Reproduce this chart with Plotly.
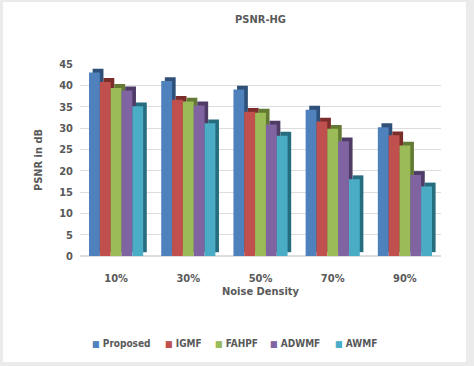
import plotly.graph_objects as go

categories = ["10%", "30%", "50%", "70%", "90%"]
series_names = ["Proposed", "IGMF", "FAHPF", "ADWMF", "AWMF"]
proposed = [43.0, 41.0, 39.0, 34.3, 30.2]
igmf = [40.8, 36.6, 33.8, 31.5, 28.3]
fahpf = [39.4, 36.2, 33.6, 29.8, 25.9]
adwmf = [38.8, 35.3, 30.8, 26.9, 19.0]
awmf = [35.1, 31.1, 28.2, 18.0, 16.3]
values = [proposed, igmf, fahpf, adwmf, awmf]

front_colors = ["#4F81BD", "#C0504D", "#9BBB59", "#8064A2", "#4BACC6"]
side_colors = ["#2E5079", "#7A2D2B", "#627A33", "#4E3B66", "#276D80"]

# x pixel where each legend square starts in the reference
legend_square_x = [92, 165, 215, 270, 335]

FONT = "DejaVu Sans Condensed, Liberation Sans Narrow, sans-serif"
GRAY = "#595959"

bar_w = 0.15
dx = 0.05    # depth offset in category units
dy = 0.9     # depth offset in value units

L, R, T, B = 80, 33, 64, 110
W, H = 474, 366
pw, ph = W - L - R, H - T - B

fig = go.Figure()
legend_ids = ["legend", "legend2", "legend3", "legend4", "legend5"]
for i, (name, vals) in enumerate(zip(series_names, values)):
    off = -0.375 + i * bar_w
    fig.add_trace(go.Bar(
        x=categories, y=vals, base=[dy] * len(vals), name=name + " depth",
        width=bar_w, offset=off + dx, marker=dict(color=side_colors[i], line=dict(width=0)),
        showlegend=False, hoverinfo="skip"))
    fig.add_trace(go.Bar(
        x=categories, y=vals, name=name, showlegend=False,
        width=bar_w, offset=off, marker=dict(color=front_colors[i], line=dict(width=0))))
    # legend entry: coloured square glyph right next to the text
    fig.add_trace(go.Scatter(
        x=[None], y=[None], mode="markers", legend=legend_ids[i],
        name=f"<span style='color:{front_colors[i]};font-size:9px'>■</span> {name}",
        marker=dict(symbol="square", size=1, color="rgba(0,0,0,0)")))

legend_common = dict(orientation="h", xanchor="left", yref="container",
                     y=(H - 343) / H, yanchor="middle",
                     font=dict(size=10, color=GRAY, weight="bold"),
                     itemwidth=30, bgcolor="rgba(0,0,0,0)", borderwidth=0)
legends = {}
for i, lid in enumerate(legend_ids):
    legends[lid] = dict(legend_common, xref="container", x=(legend_square_x[i] - 40) / W)

fig.update_layout(
    width=W, height=H,
    barmode="overlay",
    paper_bgcolor="#EBEBEB",
    plot_bgcolor="rgba(0,0,0,0)",
    margin=dict(l=L, r=R, t=T, b=B, autoexpand=False),
    font=dict(family=FONT, color=GRAY, size=11),
    title=dict(text="<b>PSNR-HG</b>", x=0.5, xref="paper", xanchor="center",
               y=1 - 19 / H, yanchor="middle", font=dict(size=11, color=GRAY)),
    xaxis=dict(
        type="category", showgrid=False, zeroline=False, showline=False, ticks="",
        automargin=False,
        tickfont=dict(size=11, color=GRAY, weight="bold"), ticklabelstandoff=14,
        title=dict(text="<b>Noise Density</b>", standoff=0, font=dict(size=11, color=GRAY)),
        range=[-0.5, 4.5]),
    yaxis=dict(
        range=[0, 45], dtick=5, showgrid=True, gridcolor="#DDDDDD", gridwidth=1,
        zeroline=True, zerolinecolor="#DDDDDD", showline=False, ticks="",
        automargin=False,
        tickfont=dict(size=11, color=GRAY, weight="bold"), ticklabelstandoff=6,
        title=dict(text="<b>PSNR in dB</b>", standoff=14, font=dict(size=11, color=GRAY))),
    shapes=[dict(type="rect", xref="paper", yref="paper", layer="below",
                 x0=(3 - L) / pw, x1=(466 - L) / pw,
                 y0=(H - B - 362) / ph, y1=(H - B - 2) / ph,
                 fillcolor="white", line=dict(width=0))],
    **legends,
)

fig.write_html("out.html", config={"displayModeBar": False},
               post_script="document.body.style.margin='0';")
